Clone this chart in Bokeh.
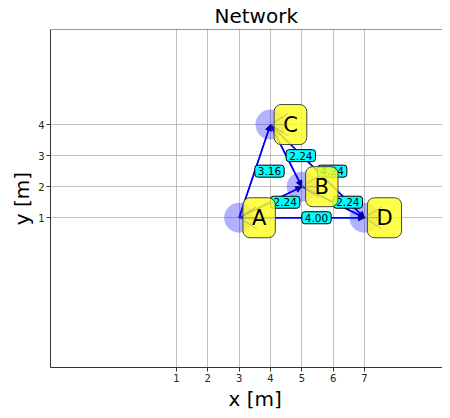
from bokeh.plotting import figure
from bokeh.models import (ColumnDataSource, Label, Arrow, NormalHead, FixedTicker,
                          Range1d, Span, Title)
from bokeh.embed import file_html
from bokeh.resources import INLINE

# ---- data ----
node_names = ["A", "B", "C", "D"]
node_x = [3, 5, 4, 7]
node_y = [1, 2, 4, 1]

edge_src = ["A", "A", "A", "C", "B", "C"]
edge_dst = ["C", "B", "D", "B", "D", "D"]
edge_weight = [3.16, 2.24, 4.00, 2.24, 2.24, 4.24]

x_ticks = [1, 2, 3, 4, 5, 6, 7]
y_ticks = [1, 2, 3, 4]

FONT = "DejaVu Sans"

pos = {n: (x, y) for n, x, y in zip(node_names, node_x, node_y)}

Y_TOP = 7.06
p = figure(width=442, height=410, output_backend="svg", toolbar_location=None,
           x_range=Range1d(-3.02, 9.49), y_range=Range1d(-3.82, Y_TOP),
           min_border_left=50, min_border_right=0, min_border_top=0,
           min_border_bottom=0, title="Network")

# the original frame runs past the right window edge, so the title and the
# x label are centred on that wider frame
p.title.align = "left"
p.title.offset = 164
p.title.text_font = FONT
p.title.text_font_size = "20px"
p.title.text_font_style = "normal"
p.title.text_color = "#000000"
p.title.standoff = 3

p.outline_line_color = None
p.add_layout(Span(location=Y_TOP, dimension="width", line_color="#333333", line_width=1))

for ax in (p.xaxis[0], p.yaxis[0]):
    ax.axis_label_text_font = FONT
    ax.axis_label_text_font_size = "20px"
    ax.axis_label_text_font_style = "normal"
    ax.axis_label_text_color = "#000000"
    ax.major_label_text_font = FONT
    ax.major_label_text_font_size = "10px"
    ax.major_label_text_color = "#222222"
    ax.axis_line_color = "#333333"
    ax.major_tick_line_color = "#333333"
    ax.major_tick_out = 4
    ax.major_tick_in = 0
    ax.minor_tick_line_color = None
    ax.axis_label_standoff = 1
    ax.major_label_standoff = 2

p.yaxis.axis_label = "y [m]"
p.add_layout(Title(text="x [m]", align="left", offset=178, text_font=FONT,
                   text_font_size="20px", text_font_style="normal",
                   text_color="#000000", standoff=0), "below")
p.xaxis.ticker = FixedTicker(ticks=x_ticks)
p.yaxis.ticker = FixedTicker(ticks=y_ticks)
p.xgrid.ticker = FixedTicker(ticks=x_ticks)
p.ygrid.ticker = FixedTicker(ticks=y_ticks)
p.grid.grid_line_color = "#b0b0b0"
p.grid.grid_line_alpha = 0.8
p.grid.grid_line_width = 1

# nodes (translucent blue circles)
nsrc = ColumnDataSource(dict(x=node_x, y=node_y, name=node_names))
p.scatter("x", "y", source=nsrc, size=30, fill_color="blue", fill_alpha=0.3,
          line_color=None)

# edges
x0 = [pos[s][0] for s in edge_src]
y0 = [pos[s][1] for s in edge_src]
x1 = [pos[d][0] for d in edge_dst]
y1 = [pos[d][1] for d in edge_dst]
esrc = ColumnDataSource(dict(x0=x0, y0=y0, x1=x1, y1=y1))
p.segment("x0", "y0", "x1", "y1", source=esrc, line_color="blue", line_width=1.5)
p.add_layout(Arrow(end=NormalHead(size=6, fill_color="#0000a0", line_color="#0000a0"),
                   x_start="x0", y_start="y0", x_end="x1", y_end="y1",
                   source=esrc, line_color="blue", line_width=1.5))

# edge labels (left-aligned at the midpoints)
mx = [(a + b) / 2 for a, b in zip(x0, x1)]
my = [(a + b) / 2 for a, b in zip(y0, y1)]
for x, y, w in zip(mx, my, edge_weight):
    p.add_layout(Label(x=x, y=y, text=f"{w:.2f}", text_align="left",
                       text_baseline="middle", text_font=FONT, text_font_size="10.5px",
                       text_color="#000000", background_fill_color="#00ffff",
                       border_line_color="#000000", border_line_width=1,
                       padding=(3, 2), border_radius=3))

# node labels (yellow rounded boxes)
for x, y, n in zip(node_x, node_y, node_names):
    p.add_layout(Label(x=x, y=y, text=n, text_align="center",
                       text_baseline="middle", x_offset=20, text_font=FONT,
                       text_font_size="21px", text_color="#000000",
                       background_fill_color="#ffff22", background_fill_alpha=0.82,
                       border_line_color="#444444", border_line_width=1,
                       padding=(9, 8), border_radius=7))

# faint connector lines from node centre to its label
cx0, cy0, cx1, cy1 = [], [], [], []
for x, y in zip(node_x, node_y):
    for dy in (-0.35, 0.0, 0.35):
        cx0.append(x); cy0.append(y); cx1.append(x + 0.55); cy1.append(y + dy)
p.segment(cx0, cy0, cx1, cy1, line_color="#777755", line_alpha=0.45, line_width=1,
          level="overlay")

open("out.html", "w").write(file_html(p, INLINE))
